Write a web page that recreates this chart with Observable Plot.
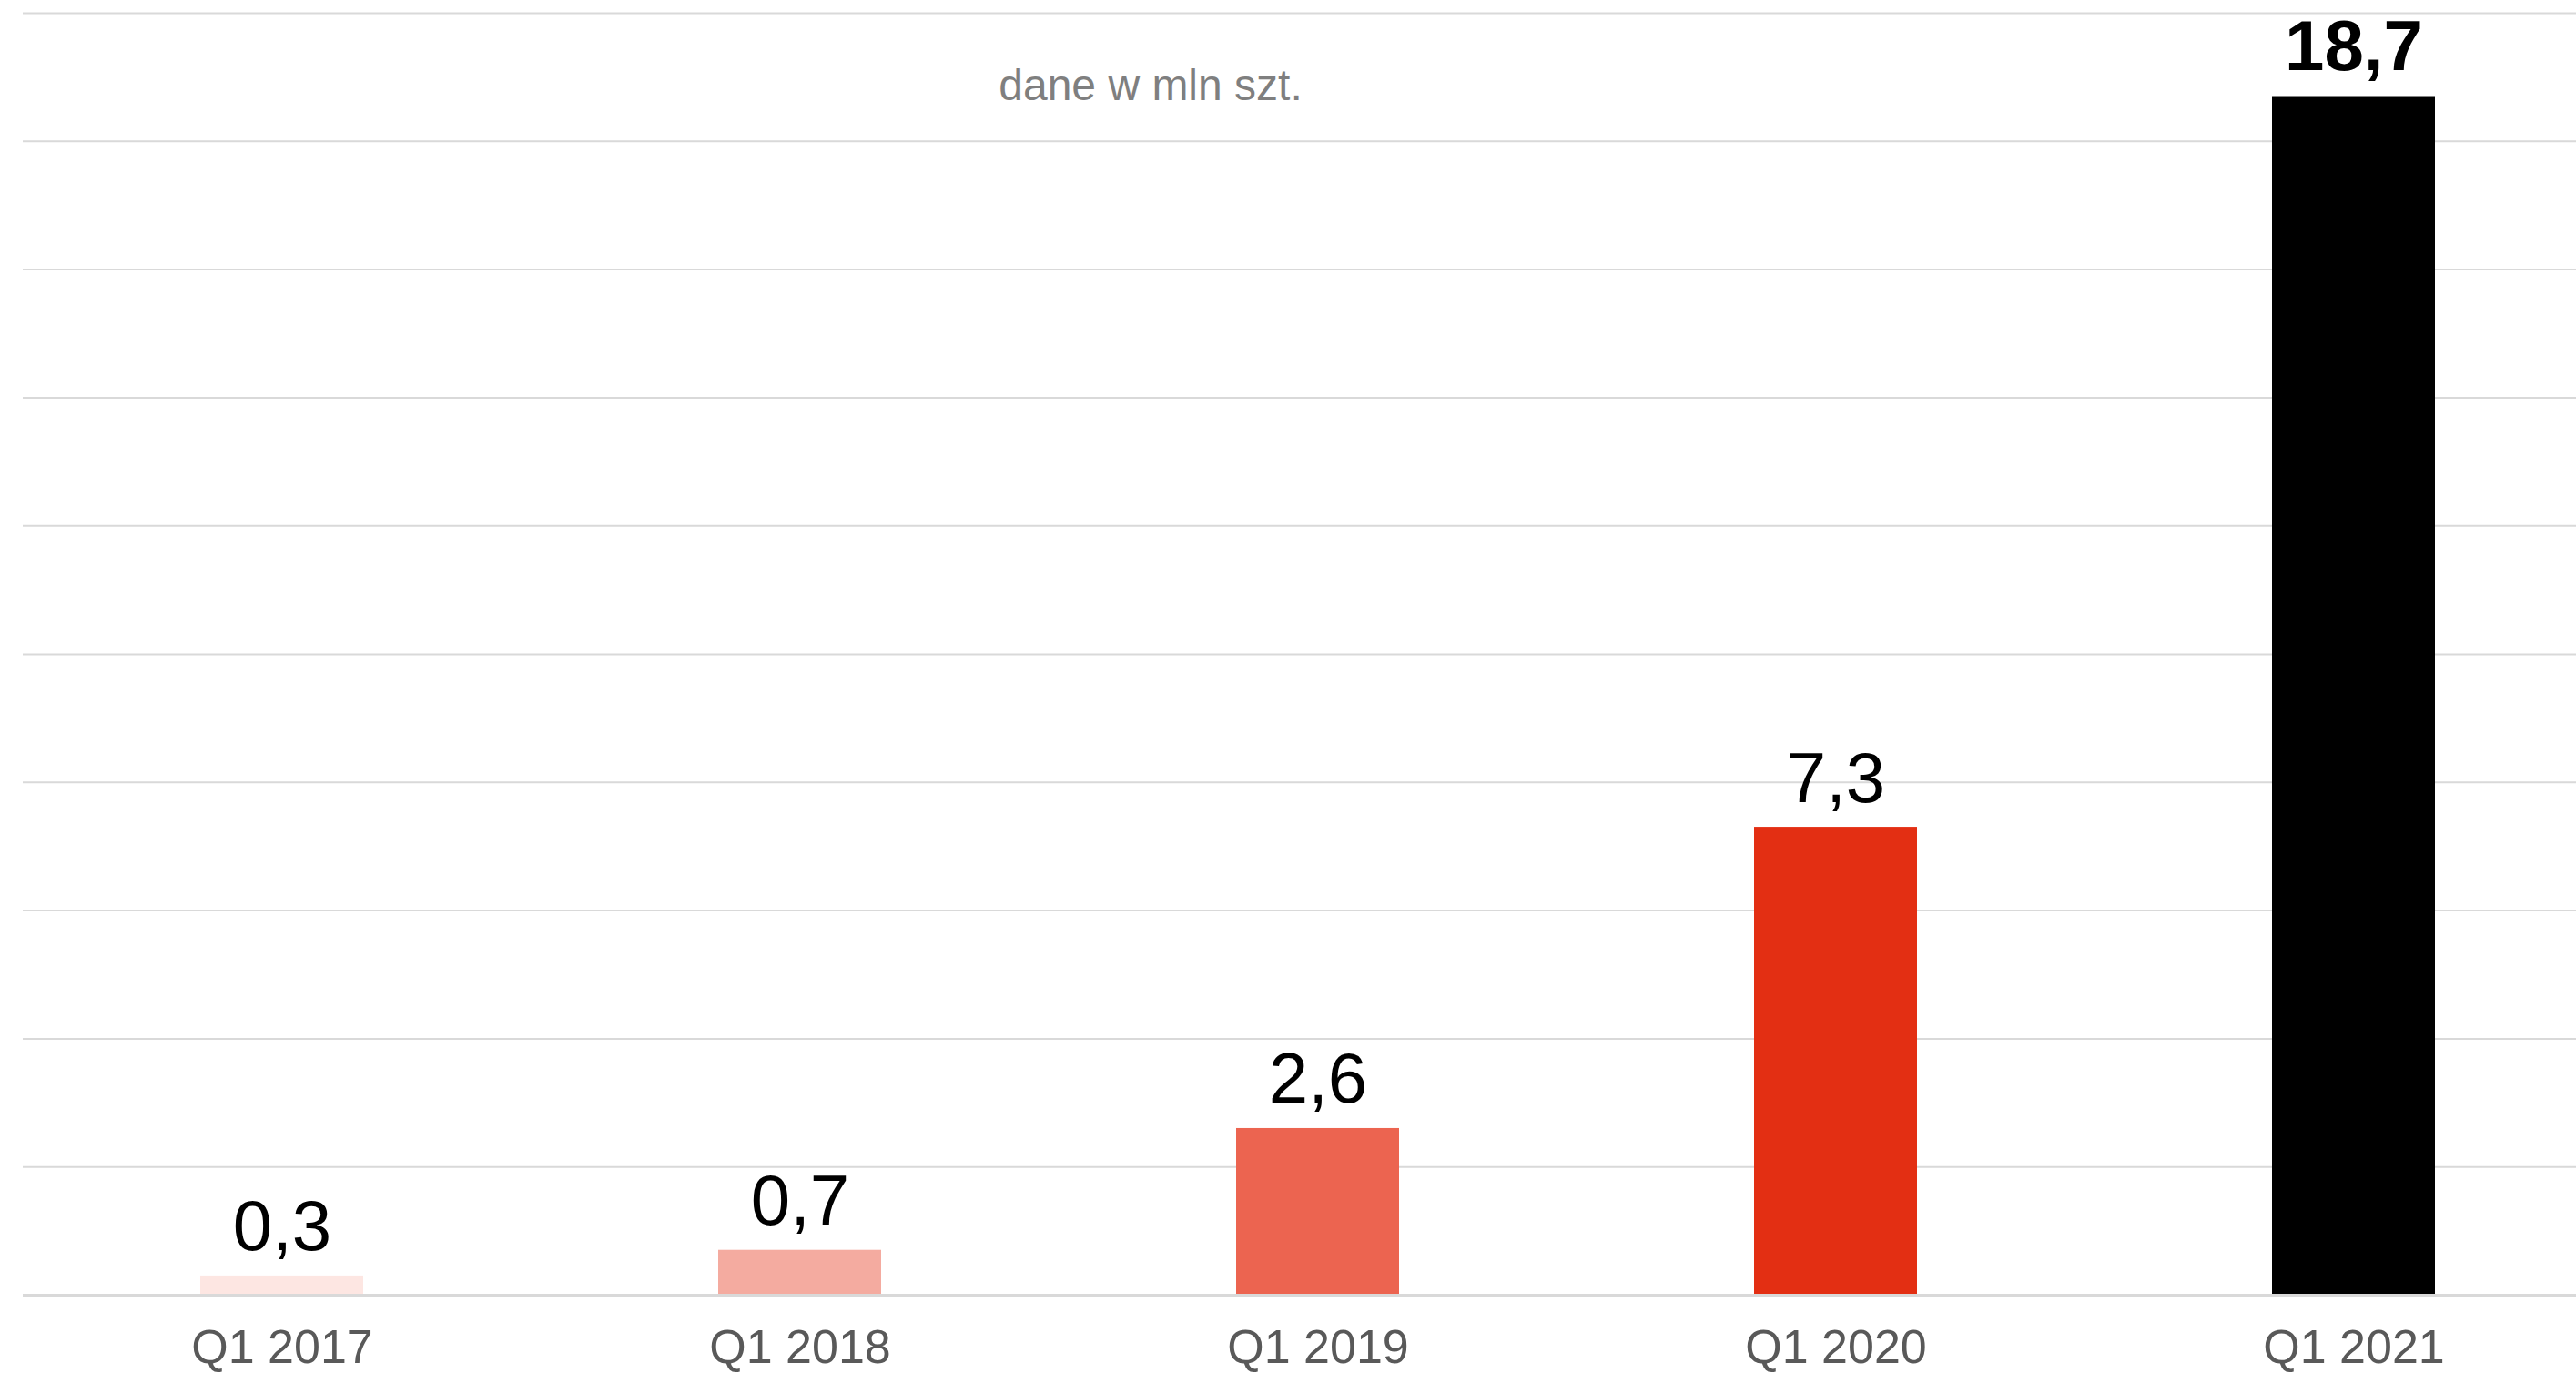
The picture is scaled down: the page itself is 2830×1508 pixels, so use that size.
<!DOCTYPE html>
<html>
<head>
<meta charset="utf-8">
<script src="https://cdn.jsdelivr.net/npm/d3@7"></script>
<script src="https://cdn.jsdelivr.net/npm/@observablehq/plot@0.6"></script>
<style>
  html, body { margin: 0; padding: 0; background: #ffffff; }
  #chart { width: 2830px; height: 1508px; overflow: hidden; }
</style>
</head>
<body>
<div id="chart"></div>
<script>
const categories = ["Q1 2017", "Q1 2018", "Q1 2019", "Q1 2020", "Q1 2021"];
const values = [0.3, 0.7, 2.6, 7.3, 18.7];
const barColors = ["#fde6e2", "#f4aba0", "#ec6450", "#e32f13", "#000000"];
const gridTicks = [0, 2, 4, 6, 8, 10, 12, 14, 16, 18, 20];
const unitNote = "dane w mln szt.";
const highlighted = "Q1 2021";

const data = categories.map((c, i) => ({ category: c, value: values[i] }));
const fmt = v => v.toFixed(1).replace(".", ",");
const font = "'Liberation Sans', Arial, Helvetica, sans-serif";

const chart = Plot.plot({
  width: 2830,
  height: 1508,
  marginTop: 14,
  marginBottom: 86,
  marginLeft: 25,
  marginRight: 0,
  style: { fontFamily: font, background: "#ffffff", overflow: "hidden" },
  x: {
    type: "band",
    domain: categories,
    range: [25, 2870],
    paddingInner: 0.685,
    paddingOuter: 0.341,
    label: null
  },
  y: { domain: [0, 20], axis: null },
  color: { type: "ordinal", domain: categories, range: barColors },
  marks: [
    Plot.ruleY(gridTicks.filter(t => t > 0), { stroke: "#d9d9d9", strokeWidth: 2 }),
    Plot.barY(data, { x: "category", y: "value", fill: "category" }),
    Plot.ruleY([0], { stroke: "#d9d9d9", strokeWidth: 3 }),
    Plot.axisX({
      tickSize: 0,
      tickPadding: 38,
      fontSize: 52,
      color: "#595959",
      label: null
    }),
    Plot.text(data.filter(d => d.category !== highlighted), {
      x: "category", y: "value", text: d => fmt(d.value),
      lineAnchor: "bottom", dy: -28, fontSize: 78, fill: "#000000"
    }),
    Plot.text(data.filter(d => d.category === highlighted), {
      x: "category", y: "value", text: d => fmt(d.value),
      lineAnchor: "bottom", dy: -29, fontSize: 78, fontWeight: "bold", fill: "#000000"
    }),
    Plot.text([unitNote], {
      frameAnchor: "top", dx: -164, dy: 61, text: d => d,
      lineAnchor: "top", fontSize: 48, fill: "#7f7f7f"
    })
  ]
});

chart.querySelectorAll("text").forEach(t => t.style.fontFamily = font);
document.getElementById("chart").appendChild(chart);
</script>
</body>
</html>
